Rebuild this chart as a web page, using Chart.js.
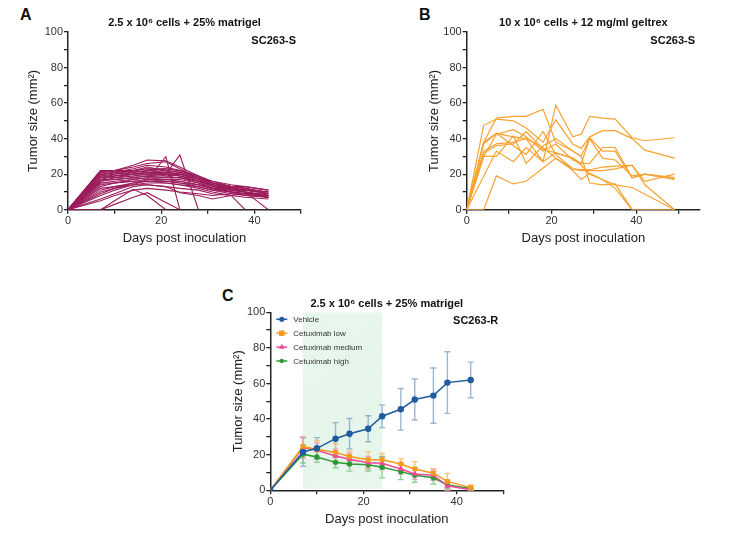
<!DOCTYPE html>
<html lang="en">
<head>
<meta charset="UTF-8">
<title>SC263 tumor growth</title>
<script src="https://cdn.jsdelivr.net/npm/chart.js"></script>
<style>
  body { margin: 0; background: #fff; }
  #page { position: relative; width: 743px; height: 537px; }
  canvas { position: absolute; }
  .panel { position: absolute; font: bold 16px 'Liberation Sans', Arial, sans-serif; line-height: 16px; color: #111; }
</style>
</head>
<body>
<div id="page">
  <div class="panel" style="left:20px; top:7px">A</div>
  <div class="panel" style="left:419px; top:7px">B</div>
  <div class="panel" style="left:222px; top:288px">C</div>
  <canvas id="chartA" width="371" height="260" style="left:0; top:0"></canvas>
  <canvas id="chartB" width="372" height="260" style="left:371px; top:0"></canvas>
  <canvas id="chartC" width="343" height="267" style="left:200px; top:270px"></canvas>
</div>
<script>
// ---- data ----
const yLabels = [0, 20, 40, 60, 80, 100];
const xLabels = [0, 20, 40];

// panel A: individual mice, 2.5e6 cells + 25% matrigel
const daysA = [0, 7, 10, 14, 17, 21, 24, 28, 31, 35, 38, 43];
const miceA = [
  [0, 22, 22, 24, 26, 27, 23, 18, 14, 12, 11, 10],
  [0, 22, 21, 23, 25, 24, 22, 19, 15, 13, 12, 9],
  [0, 21, 22, 22, 23, 22, 21, 18, 14, 11, 10, 8],
  [0, 21, 20, 21, 22, 23, 22, 19, 16, 13, 12, 9],
  [0, 20, 21, 22, 21, 21, 20, 17, 13, 11, 10, 8],
  [0, 20, 19, 20, 21, 20, 19, 16, 12, 11, 10, 7],
  [0, 19, 20, 22, 24, 22, 21, 18, 15, 13, 13, 11],
  [0, 19, 18, 19, 20, 21, 20, 17, 13, 12, 11, 9],
  [0, 18, 19, 21, 22, 21, 19, 16, 14, 12, 10, 8],
  [0, 18, 18, 19, 19, 18, 18, 16, 13, 10, 9, 7],
  [0, 17, 19, 20, 20, 20, 19, 17, 14, 12, 11, 10],
  [0, 17, 17, 18, 19, 19, 20, 18, 15, 12, 11, 9],
  [0, 16, 18, 20, 21, 19, 18, 15, 12, 10, 9, 8],
  [0, 16, 17, 18, 17, 17, 17, 15, 12, 10, 9, 7],
  [0, 15, 16, 17, 18, 18, 18, 16, 14, 12, 10, 8],
  [0, 15, 15, 16, 16, 16, 15, 13, 11, 10, 9, 7],
  [0, 14, 15, 16, 17, 16, 16, 14, 12, 10, 8, 7],
  [0, 12, 13, 15, 16, 16, 15, 14, 12, 10, 9, 8],
  [0, 11, 13, 14, 15, 15, 14, 13, 11, 9, 8, 7],
  [0, 10, 12, 14, 14, 13, 12, 11, 9, 8, 7, 6],
  [0, 21, 22, 25, 28, 27.5, 24, 19, 15, 13, 12, 10],
  [0, 8, 11, 14, 17, 29.8, 0],
  [0, 17, 17, 18, 19, 20, 30.8, 0],
  [0, 6, 9, 13, 14, 13, 9.5, 8, 6, 8, 9, 9],
  [0, 5, 8, 11, 12, 11, 10, 9, 8, 9, 9, 8],
  [0, 0, 5, 11.5, 8, 0],
  [0, 0, 3, 7, 9.6, 4, 0],
  [0, 9, 12, 15, 16, 15, 14, 12, 10, 8, 0],
  [0, 13, 15, 17, 18, 17, 16, 14, 12, 11, 10, 0],
  [0, 22, 21, 22, 23, 23, 22, 18, 16, 14, 13, 11]
];

// panel B: individual mice, 10e6 cells + 12 mg/ml geltrex
const daysB = [0, 4, 7, 11, 14, 18, 21, 25, 27, 29, 32, 35, 39, 42, 49];
const miceB = [
  [0, 33, 37, 38, 40, 27, 58.8, 41, 42.5, 52.5, 51.5, 51, 40.5, 38.8, 40.5],
  [0, 47.5, 51, 50, 46, 38, 50.5, 37, 34.5, 41, 44.5, 44.5, 40, 33.5, 29],
  [0, 38, 51.5, 52.5, 52.5, 56.5, 38, 33, 30, 40.5, 33, 33, 18, 20, 17.5],
  [0, 37, 43, 36, 31, 44, 31, 23, 22.5, 22.5, 24, 24.5, 25, 16, 20],
  [0, 30, 42.5, 45, 41, 33, 37, 28, 26, 26, 35, 35, 18, 20, 18],
  [0, 30, 30, 41.5, 26, 36, 40, 33, 30, 15, 14, 14.5, 0, 0, 0],
  [0, null, 33, 27, 35, 27, 32, 29, 25, 20, 17, 12, 0],
  [0, 0, 19, 14.5, 16, null, 29, 22, 17, 20.5, 17, 14, 12.5, null, 0],
  [0, 38, 43, 41, 40, 35, 29, 23, 22, 22, 22, 23, 25, 14, 0],
  [0, 32, 36, 37, 44, 34, 32, 29, 26, 40, 29, 28, 19, 20, 17]
];

// panel C: group means +/- SD, 2.5e6 cells + 25% matrigel (SC263-R)
const daysC = [0, 7, 10, 14, 17, 21, 24, 28, 31, 35, 38, 43];
const groupNames = ['Vehicle', 'Cetuximab low', 'Cetuximab medium', 'Cetuximab high'];
const vehicle = [0, 21.5, 23.6, 29, 31.8, 34.6, 41.6, 45.5, 51, 53.2, 60.5, 62];
const vehicleSd = [0, 8, 6, 9, 8.5, 7.3, 6.4, 11.7, 11.5, 15.5, 17.3, 10];
const cetuxLow = [0, 24.5, 23, 21.3, 19, 17.2, 17.2, 14.8, 12, 9.6, 5, 1.5];
const cetuxLowSd = [0, 5.5, 5, 5, 3, 4.5, 3.5, 3, 4, 2.5, 4.5, 1.5];
const cetuxMed = [0, 24, 22.5, 19.3, 17.5, 15.5, 15.2, 12, 9.2, 8.5, 2.5, 0.3];
const cetuxMedSd = [0, 6, 4, 4, 3.5, 3.5, 3.5, 3, 3, 3, 2.5, 0.5];
const cetuxHigh = [0, 20.3, 18.7, 15.7, 14.8, 14.3, 13, 10.5, 8.5, 7, 3, 1];
const cetuxHighSd = [0, 5, 3, 3, 4, 3.5, 6, 4.5, 4, 3.5, 2, 1];
const treatWindow = [7, 24];

// ---- helpers ----
Chart.defaults.font.family = "'Liberation Sans', Arial, sans-serif";
Chart.defaults.color = '#222';

function pts(days, vals) {
  return vals.map((v, i) => ({ x: days[i], y: v }));
}

function axes(xMax, yWidth, xHeight) {
  const common = {
    type: 'linear',
    min: 0,
    grid: { drawOnChartArea: false, drawTicks: true, tickLength: 4, color: '#222', lineWidth: 1.3 },
    border: { display: true, color: '#222', width: 1.5 }
  };
  return {
    x: Object.assign({}, common, {
      max: xMax,
      ticks: { stepSize: 10, includeBounds: false, autoSkip: false, maxRotation: 0, padding: 1,
        font: { size: 11 }, color: '#333',
        callback: v => xLabels.includes(v) ? v : '' },
      title: { display: true, text: 'Days post inoculation', font: { size: 13 }, color: '#222', padding: 0 },
      afterFit: s => { s.height = xHeight; }
    }),
    y: Object.assign({}, common, {
      max: 100,
      ticks: { stepSize: 10, includeBounds: false, autoSkip: false, padding: 1,
        font: { size: 11 }, color: '#333',
        callback: v => yLabels.includes(v) ? v : '' },
      title: { display: true, text: 'Tumor size (mm²)', font: { size: 13 }, color: '#222', padding: 0 },
      afterFit: s => { s.width = yWidth; }
    })
  };
}

// title centred over the plot area, plus the cell-line tag in the corner
const panelText = {
  id: 'panelText',
  afterDraw(chart, args, opts) {
    const { ctx, chartArea } = chart;
    ctx.save();
    ctx.font = "bold 11px 'Liberation Sans', Arial, sans-serif";
    ctx.fillStyle = '#111';
    ctx.textBaseline = 'middle';
    ctx.textAlign = 'center';
    ctx.fillText(opts.title, (chartArea.left + chartArea.right) / 2, chartArea.top - 8.7);
    ctx.textAlign = 'right';
    ctx.fillText(opts.tag, chartArea.right - 5, chartArea.top + 9);
    ctx.restore();
  }
};

const shade = {
  id: 'shade',
  beforeDatasetsDraw(chart, args, opts) {
    if (!opts.range) return;
    const { ctx, chartArea, scales: { x } } = chart;
    const x0 = x.getPixelForValue(opts.range[0]);
    const x1 = x.getPixelForValue(opts.range[1]);
    const top = chartArea.top, h = chartArea.bottom - chartArea.top - 1;
    ctx.save();
    ctx.beginPath();
    ctx.rect(x0, top, x1 - x0, h);
    ctx.clip();
    ctx.fillStyle = 'rgba(230,246,235,0.8)';
    ctx.fillRect(x0, top, x1 - x0, h);
    ctx.strokeStyle = 'rgba(200,232,210,0.6)';
    ctx.lineWidth = 0.6;
    ctx.beginPath();
    for (let k = x0 - h; k < x1; k += 3) {
      ctx.moveTo(k, top + h);
      ctx.lineTo(k + h, top);
    }
    ctx.stroke();
    ctx.restore();
  }
};

const errorBars = {
  id: 'errorBars',
  beforeDatasetsDraw(chart) {
    const { ctx, scales: { x, y } } = chart;
    chart.data.datasets.forEach(ds => {
      if (!ds.sd) return;
      ctx.save();
      ctx.strokeStyle = ds.sdColor;
      ctx.lineWidth = 1.4;
      ds.data.forEach((p, j) => {
        const e = ds.sd[j];
        if (!e) return;
        const px = x.getPixelForValue(p.x);
        const top = y.getPixelForValue(p.y + e);
        const bot = y.getPixelForValue(Math.max(p.y - e, 0));
        ctx.beginPath();
        ctx.moveTo(px, top); ctx.lineTo(px, bot);
        ctx.moveTo(px - 3, top); ctx.lineTo(px + 3, top);
        ctx.moveTo(px - 3, bot); ctx.lineTo(px + 3, bot);
        ctx.stroke();
      });
      ctx.restore();
    });
  }
};

function marker(ctx, style, x, y, r) {
  ctx.beginPath();
  if (style === 'rect') {
    ctx.rect(x - r, y - r, 2 * r, 2 * r);
  } else if (style === 'triangle') {
    ctx.moveTo(x, y - r * 1.15);
    ctx.lineTo(x + r, y + r * 0.6);
    ctx.lineTo(x - r, y + r * 0.6);
    ctx.closePath();
  } else {
    ctx.arc(x, y, r, 0, Math.PI * 2);
  }
  ctx.fill();
}

const miniLegend = {
  id: 'miniLegend',
  afterDraw(chart, args, opts) {
    if (!opts.show) return;
    const { ctx, chartArea } = chart;
    ctx.save();
    ctx.font = "8px 'Liberation Sans', Arial, sans-serif";
    ctx.textBaseline = 'middle';
    chart.data.datasets.forEach((ds, i) => {
      const y = chartArea.top + 7 + i * 13.9;
      const x = chartArea.left + 6;
      ctx.strokeStyle = ds.borderColor;
      ctx.lineWidth = 1.5;
      ctx.beginPath();
      ctx.moveTo(x, y); ctx.lineTo(x + 11, y);
      ctx.stroke();
      ctx.fillStyle = ds.pointBackgroundColor;
      marker(ctx, ds.pointStyle, x + 5.5, y, ds.pointRadius * 0.8);
      ctx.fillStyle = '#333';
      ctx.fillText(ds.label, chartArea.left + 23, y + 0.5);
    });
    ctx.restore();
  }
};

function baseOptions(title, tag, xMax, pad, yWidth, xHeight) {
  return {
    responsive: false,
    animation: false,
    devicePixelRatio: 1,
    layout: { padding: pad },
    scales: axes(xMax, yWidth, xHeight),
    plugins: {
      legend: { display: false },
      tooltip: { enabled: false },
      title: { display: false },
      panelText: { title: title, tag: tag }
    }
  };
}

// ---- panel A ----
new Chart(document.getElementById('chartA'), {
  type: 'line',
  data: {
    datasets: miceA.map(v => ({
      data: pts(daysA, v), borderColor: '#9c1d5c', borderWidth: 1.1,
      pointRadius: 0, fill: false, tension: 0
    }))
  },
  options: baseOptions('2.5 x 10⁶ cells + 25% matrigel', 'SC263-S', 50,
    { left: 25.2, right: 70, top: 32, bottom: 13.9 }, 42.8, 36.4),
  plugins: [panelText]
});

// ---- panel B ----
new Chart(document.getElementById('chartB'), {
  type: 'line',
  data: {
    datasets: miceB.map(v => ({
      data: pts(daysB, v), borderColor: '#f9a232', borderWidth: 1.2,
      pointRadius: 0, fill: false, tension: 0, spanGaps: true
    }))
  },
  options: baseOptions('10 x 10⁶ cells + 12 mg/ml geltrex', 'SC263-S', 55,
    { left: 55.5, right: 43, top: 32, bottom: 13.9 }, 40.2, 36.4),
  plugins: [panelText]
});

// ---- panel C ----
const groupValues = [vehicle, cetuxLow, cetuxMed, cetuxHigh];
const groupSd = [vehicleSd, cetuxLowSd, cetuxMedSd, cetuxHighSd];
const groupColors = ['#1f5c9e', '#f8981d', '#ee4b98', '#2a9a34'];
const groupSdColors = ['rgba(120,160,198,0.75)', 'rgba(250,185,100,0.8)', 'rgba(242,145,192,0.8)', 'rgba(120,195,125,0.8)'];
const groupMarkers = ['circle', 'rect', 'triangle', 'circle'];
const groupRadius = [3.2, 3.4, 3.6, 2.7];

const optsC = baseOptions('2.5 x 10⁶ cells + 25% matrigel', 'SC263-R', 50,
  { left: 30.5, right: 39.7, top: 42.3, bottom: 10.2 }, 39.8, 36.5);
optsC.plugins.shade = { range: treatWindow };
optsC.plugins.miniLegend = { show: true };

new Chart(document.getElementById('chartC'), {
  type: 'line',
  data: {
    datasets: groupNames.map((name, i) => ({
      label: name,
      data: pts(daysC, groupValues[i]),
      sd: groupSd[i],
      sdColor: groupSdColors[i],
      borderColor: groupColors[i],
      backgroundColor: groupColors[i],
      pointBackgroundColor: groupColors[i],
      pointBorderColor: groupColors[i],
      pointBorderWidth: 0,
      pointStyle: groupMarkers[i],
      pointRadius: groupRadius[i],
      borderWidth: 1.5,
      fill: false,
      tension: 0
    }))
  },
  options: optsC,
  plugins: [shade, errorBars, panelText, miniLegend]
});
</script>
</body>
</html>
